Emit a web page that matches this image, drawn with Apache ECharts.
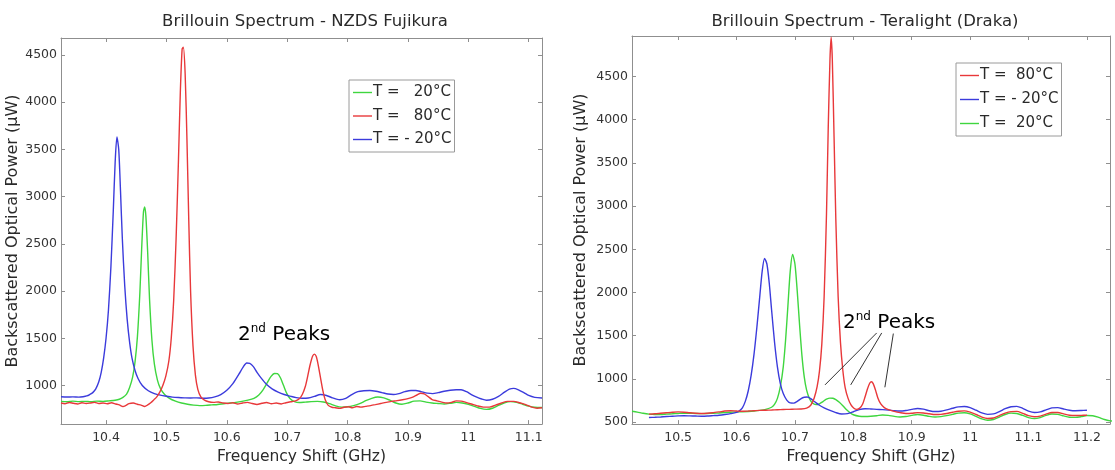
<!DOCTYPE html>
<html><head><meta charset="utf-8">
<script src="https://cdn.jsdelivr.net/npm/echarts@6/dist/echarts.min.js"></script>
<style>html,body{margin:0;padding:0;background:#fff}#c{width:1115px;height:470px}</style>
</head><body><div id="c"></div>
<script>
// ---------- DATA ----------
const leftTitle = 'Brillouin Spectrum - NZDS Fujikura';
const rightTitle = 'Brillouin Spectrum - Teralight (Draka)';
const xName = 'Frequency Shift (GHz)';
const yName = 'Backscattered Optical Power (\u03bcW)';
const leftXTicks = [10.4, 10.5, 10.6, 10.7, 10.8, 10.9, 11, 11.1];
const leftYTicks = [1000, 1500, 2000, 2500, 3000, 3500, 4000, 4500];
const rightXTicks = [10.5, 10.6, 10.7, 10.8, 10.9, 11, 11.1, 11.2];
const rightYTicks = [500, 1000, 1500, 2000, 2500, 3000, 3500, 4000, 4500];
const leftNames = ['T =   20\u00b0C', 'T =   80\u00b0C', 'T = - 20\u00b0C'];
const rightNames = ['T =  80\u00b0C', 'T = - 20\u00b0C', 'T =  20\u00b0C'];
const peaksLabel = '2nd Peaks';

// Left chart (NZDS Fujikura): [GHz, uW]
const leftGreen = [[10.3254,832],[10.335,828],[10.345,835],[10.355,830],[10.365,833],[10.375,829],[10.385,835],[10.395,832],[10.405,838],[10.415,845],[10.422,855],[10.428,875],[10.434,910],[10.439,980],[10.444,1090],[10.448,1250],[10.452,1520],[10.456,1980],[10.459,2450],[10.462,2840],[10.464,2890],[10.466,2790],[10.469,2400],[10.472,1920],[10.476,1480],[10.48,1230],[10.485,1060],[10.49,970],[10.497,905],[10.505,865],[10.515,835],[10.525,815],[10.535,802],[10.545,793],[10.555,788],[10.565,790],[10.575,795],[10.585,800],[10.595,808],[10.605,815],[10.615,822],[10.625,832],[10.635,845],[10.645,865],[10.653,900],[10.66,955],[10.667,1030],[10.673,1095],[10.679,1128],[10.684,1125],[10.689,1080],[10.694,1000],[10.699,920],[10.705,860],[10.712,830],[10.72,820],[10.73,825],[10.74,830],[10.75,832],[10.76,826],[10.77,808],[10.78,785],[10.79,772],[10.80,775],[10.81,788],[10.82,808],[10.83,840],[10.84,865],[10.85,878],[10.86,870],[10.87,845],[10.88,815],[10.89,802],[10.90,815],[10.91,835],[10.92,838],[10.93,825],[10.94,815],[10.95,810],[10.96,805],[10.97,812],[10.98,822],[10.99,815],[11.00,800],[11.01,780],[11.02,758],[11.03,748],[11.04,760],[11.05,790],[11.06,818],[11.07,830],[11.08,822],[11.09,802],[11.10,782],[11.11,770],[11.122,768]];
const leftRed = [[10.3254,815],[10.332,808],[10.339,820],[10.346,812],[10.353,805],[10.36,818],[10.367,810],[10.374,815],[10.381,822],[10.388,810],[10.395,816],[10.402,808],[10.409,818],[10.416,805],[10.422,795],[10.428,778],[10.433,790],[10.438,808],[10.445,815],[10.452,802],[10.458,792],[10.464,778],[10.469,795],[10.474,818],[10.479,848],[10.484,880],[10.489,930],[10.494,1000],[10.499,1100],[10.504,1260],[10.508,1500],[10.512,1900],[10.516,2550],[10.52,3400],[10.523,4100],[10.526,4560],[10.528,4580],[10.531,4300],[10.534,3600],[10.537,2750],[10.54,2000],[10.544,1420],[10.548,1110],[10.552,960],[10.557,880],[10.563,845],[10.57,828],[10.578,822],[10.586,826],[10.594,815],[10.602,810],[10.61,818],[10.618,805],[10.626,815],[10.634,822],[10.642,810],[10.65,800],[10.658,812],[10.666,820],[10.674,808],[10.682,815],[10.69,805],[10.698,818],[10.706,828],[10.714,838],[10.72,860],[10.725,905],[10.73,990],[10.734,1100],[10.738,1220],[10.742,1310],[10.745,1332],[10.748,1310],[10.751,1230],[10.755,1090],[10.759,950],[10.763,850],[10.768,790],[10.774,770],[10.78,765],[10.787,758],[10.794,770],[10.801,776],[10.808,765],[10.815,778],[10.822,772],[10.83,780],[10.838,788],[10.846,798],[10.855,810],[10.864,822],[10.873,832],[10.882,840],[10.891,850],[10.90,862],[10.908,878],[10.915,900],[10.921,918],[10.927,912],[10.933,885],[10.94,852],[10.948,838],[10.956,825],[10.964,815],[10.972,822],[10.98,838],[10.988,835],[10.996,822],[11.005,805],[11.015,785],[11.025,772],[11.035,772],[11.045,792],[11.055,815],[11.065,832],[11.075,832],[11.085,818],[11.095,798],[11.105,772],[11.114,760],[11.122,765]];
const leftBlue = [[10.3254,882],[10.335,878],[10.345,880],[10.355,877],[10.362,882],[10.368,890],[10.373,905],[10.378,925],[10.383,965],[10.388,1040],[10.392,1140],[10.396,1290],[10.40,1500],[10.404,1800],[10.408,2250],[10.412,2850],[10.415,3350],[10.418,3630],[10.421,3500],[10.424,3050],[10.427,2550],[10.431,2050],[10.435,1700],[10.439,1460],[10.443,1290],[10.448,1160],[10.453,1075],[10.46,1000],[10.47,945],[10.48,915],[10.49,898],[10.50,887],[10.51,878],[10.52,873],[10.53,870],[10.54,868],[10.55,870],[10.56,866],[10.57,868],[10.58,880],[10.59,905],[10.60,950],[10.61,1020],[10.62,1120],[10.627,1195],[10.633,1238],[10.638,1235],[10.644,1200],[10.65,1140],[10.658,1070],[10.666,1010],[10.675,965],[10.685,930],[10.695,905],[10.705,888],[10.715,872],[10.725,865],[10.735,868],[10.745,885],[10.755,905],[10.765,895],[10.775,870],[10.787,850],[10.797,865],[10.807,905],[10.817,935],[10.827,945],[10.837,948],[10.847,940],[10.857,925],[10.867,910],[10.876,905],[10.885,915],[10.895,935],[10.905,948],[10.913,948],[10.922,935],[10.932,920],[10.941,915],[10.95,925],[10.96,940],[10.97,950],[10.98,955],[10.988,955],[10.997,935],[11.005,905],[11.013,880],[11.022,858],[11.03,845],[11.04,855],[11.05,885],[11.06,930],[11.068,962],[11.075,970],[11.083,955],[11.092,925],[11.10,895],[11.11,875],[11.122,868]];

// Right chart (Teralight Draka): [GHz, uW]
const rightRed = [[10.45,592],[10.46,596],[10.47,602],[10.48,608],[10.49,614],[10.50,618],[10.51,615],[10.52,608],[10.53,603],[10.54,600],[10.55,603],[10.56,610],[10.57,618],[10.58,628],[10.59,632],[10.60,628],[10.61,625],[10.62,628],[10.63,632],[10.64,636],[10.65,638],[10.66,640],[10.67,643],[10.68,646],[10.69,648],[10.70,650],[10.71,652],[10.72,662],[10.727,695],[10.733,780],[10.738,910],[10.742,1090],[10.746,1400],[10.75,1950],[10.754,2900],[10.757,3900],[10.76,4700],[10.762,4955],[10.764,4700],[10.767,3800],[10.77,2850],[10.774,1950],[10.778,1420],[10.782,1100],[10.786,900],[10.791,775],[10.796,700],[10.801,660],[10.806,648],[10.811,662],[10.816,710],[10.82,790],[10.824,880],[10.828,950],[10.831,968],[10.834,945],[10.838,870],[10.842,780],[10.847,710],[10.853,668],[10.86,645],[10.87,625],[10.88,610],[10.89,600],[10.90,602],[10.91,610],[10.92,606],[10.93,596],[10.94,588],[10.95,590],[10.96,600],[10.97,614],[10.98,626],[10.99,630],[11.00,615],[11.01,588],[11.02,558],[11.03,542],[11.04,548],[11.05,575],[11.06,605],[11.07,622],[11.08,624],[11.09,602],[11.10,575],[11.11,562],[11.12,570],[11.13,592],[11.14,612],[11.15,612],[11.16,595],[11.17,580],[11.18,576],[11.19,578],[11.20,580]];
const rightBlue = [[10.45,553],[10.46,556],[10.47,560],[10.48,565],[10.49,568],[10.50,572],[10.51,574],[10.52,572],[10.53,570],[10.54,568],[10.55,570],[10.56,575],[10.57,580],[10.58,588],[10.59,598],[10.60,612],[10.605,630],[10.61,665],[10.615,740],[10.62,860],[10.625,1040],[10.63,1290],[10.635,1610],[10.64,1970],[10.644,2250],[10.648,2395],[10.652,2330],[10.656,2110],[10.66,1800],[10.665,1430],[10.67,1140],[10.675,945],[10.68,830],[10.686,755],[10.692,722],[10.698,720],[10.704,740],[10.71,770],[10.716,788],[10.721,790],[10.727,772],[10.734,735],[10.742,695],[10.75,665],[10.76,635],[10.77,610],[10.78,594],[10.79,598],[10.80,620],[10.81,645],[10.82,655],[10.83,652],[10.84,648],[10.85,645],[10.86,640],[10.87,632],[10.88,628],[10.89,635],[10.90,648],[10.91,658],[10.92,650],[10.93,632],[10.94,622],[10.95,626],[10.96,642],[10.97,660],[10.98,676],[10.99,680],[11.00,668],[11.01,638],[11.02,606],[11.03,590],[11.04,595],[11.05,622],[11.06,655],[11.07,678],[11.08,682],[11.09,660],[11.10,628],[11.11,612],[11.12,618],[11.13,642],[11.14,665],[11.15,668],[11.16,652],[11.17,638],[11.18,632],[11.19,634],[11.20,637]];
const rightGreen = [[10.421,626],[10.43,616],[10.44,602],[10.45,592],[10.46,588],[10.47,588],[10.48,592],[10.49,596],[10.50,600],[10.51,603],[10.52,602],[10.53,600],[10.54,598],[10.55,600],[10.56,603],[10.57,606],[10.58,610],[10.59,614],[10.60,618],[10.61,620],[10.62,623],[10.63,628],[10.64,636],[10.65,648],[10.66,672],[10.665,705],[10.67,775],[10.675,910],[10.68,1140],[10.684,1450],[10.688,1850],[10.692,2250],[10.696,2440],[10.70,2330],[10.704,2010],[10.708,1620],[10.712,1270],[10.716,1020],[10.72,870],[10.725,770],[10.73,720],[10.736,702],[10.742,712],[10.748,738],[10.754,765],[10.76,778],[10.765,776],[10.77,760],[10.776,730],[10.782,690],[10.788,645],[10.795,605],[10.80,585],[10.81,568],[10.82,565],[10.83,568],[10.84,574],[10.85,583],[10.86,578],[10.87,566],[10.88,560],[10.89,565],[10.90,578],[10.91,588],[10.92,580],[10.93,566],[10.94,560],[10.95,564],[10.96,575],[10.97,590],[10.98,604],[10.99,608],[11.00,595],[11.01,566],[11.02,537],[11.03,522],[11.04,530],[11.05,558],[11.06,588],[11.07,604],[11.08,600],[11.09,577],[11.10,552],[11.11,540],[11.12,552],[11.13,578],[11.14,594],[11.15,590],[11.16,572],[11.17,557],[11.18,555],[11.19,563],[11.20,576],[11.21,574],[11.22,555],[11.23,530],[11.24,515],[11.248,510]];

// Annotation pointer lines on right chart (data coordinates)
const rightPointers = [
  [[10.840, 1532], [10.7515, 931]],
  [[10.8486, 1532], [10.7955, 931]],
  [[10.8685, 1525], [10.854, 903]]
];

// ---------- STYLE / LAYOUT ----------
const FONT = 'DejaVu Sans';
const C_GREEN = '#3fd63f', C_RED = '#e8383a', C_BLUE = '#3b3bdc';
const AX = '#8f8f8f', TXT = '#2a2a2a';
const leftRange = {xmin: 10.3254, xmax: 11.122, ymin: 592, ymax: 4678};
const rightRange = {xmin: 10.421, xmax: 11.2395, ymin: 477, ymax: 4969};
const plainNum = v => String(+v.toFixed(3));

function xAxes(grid, r, ticks) {
  return [
    {gridIndex: grid, type: 'value', min: r.xmin, max: r.xmax, position: 'bottom',
     name: xName, nameLocation: 'middle', nameGap: 14,
     nameTextStyle: {fontFamily: FONT, fontSize: 15.5, color: TXT, verticalAlign: 'top'},
     axisLine: {onZero: false, lineStyle: {color: AX, width: 1}},
     axisTick: {inside: true, length: 4, customValues: ticks, lineStyle: {color: AX}},
     axisLabel: {customValues: ticks, margin: 7, fontFamily: FONT, fontSize: 12.5, color: '#333', formatter: plainNum},
     splitLine: {show: false}},
    {gridIndex: grid, type: 'value', min: r.xmin, max: r.xmax, position: 'top',
     axisLine: {onZero: false, lineStyle: {color: AX, width: 1}},
     axisTick: {inside: true, length: 4, customValues: ticks, lineStyle: {color: AX}},
     axisLabel: {show: false, customValues: ticks},
     splitLine: {show: false}}
  ];
}
function yAxes(grid, r, ticks, gap) {
  return [
    {gridIndex: grid, type: 'value', min: r.ymin, max: r.ymax, position: 'left',
     name: yName, nameLocation: 'middle', nameGap: gap,
     nameTextStyle: {fontFamily: FONT, fontSize: 16, color: TXT},
     axisLine: {onZero: false, lineStyle: {color: AX, width: 1}},
     axisTick: {inside: true, length: 4, customValues: ticks, lineStyle: {color: AX}},
     axisLabel: {customValues: ticks, margin: 4, fontFamily: FONT, fontSize: 12.5, color: '#333', formatter: plainNum},
     splitLine: {show: false}},
    {gridIndex: grid, type: 'value', min: r.ymin, max: r.ymax, position: 'right',
     axisLine: {onZero: false, lineStyle: {color: AX, width: 1}},
     axisTick: {inside: true, length: 4, customValues: ticks, lineStyle: {color: AX}},
     axisLabel: {show: false, customValues: ticks},
     splitLine: {show: false}}
  ];
}
function line(name, data, color, xi, yi, extra) {
  return Object.assign({
    type: 'line', name: name, data: data, xAxisIndex: xi, yAxisIndex: yi,
    symbol: 'none', smooth: 0.25, lineStyle: {color: color, width: 1.4},
    itemStyle: {color: color}, animation: false, silent: true
  }, extra || {});
}
// legend line icon: thin bar centred in a 19x15 box (invisible move points fix the box)
const LINE_ICON = 'path://M0,0 L0,0 M0,6.8 L19,6.8 L19,8.2 L0,8.2 Z M19,15 L19,15';
function legendBox(left, top, names, gap) {
  return {
    left: left, top: top, orient: 'vertical', data: names,
    icon: LINE_ICON,
    padding: [5, 3, 5, 4], itemGap: gap, itemWidth: 19, itemHeight: 15,
    borderColor: '#9a9a9a', borderWidth: 1, backgroundColor: '#fff', borderRadius: 0,
    selectedMode: false,
    textStyle: {fontFamily: FONT, fontSize: 15, color: TXT, lineHeight: 15, padding: [0, 0, 0, -4]}
  };
}
const peakRich = {
  n: {fontFamily: FONT, fontSize: 20, color: TXT, lineHeight: 24, verticalAlign: 'middle'},
  s: {fontFamily: FONT, fontSize: 12, color: TXT, lineHeight: 13, verticalAlign: 'top'}
};
const peakText = '{n|' + peaksLabel.slice(0, 1) + '}{s|' + peaksLabel.slice(1, 3) + '}{n|' + peaksLabel.slice(3) + '}';

const chart = echarts.init(document.getElementById('c'), null, {renderer: 'canvas'});
chart.setOption({
  backgroundColor: '#fff',
  animation: false,
  title: [
    {text: leftTitle, left: 300, top: 8, textAlign: 'center',
     textStyle: {fontFamily: FONT, fontSize: 16.5, fontWeight: 'normal', color: TXT}},
    {text: rightTitle, left: 860, top: 8, textAlign: 'center',
     textStyle: {fontFamily: FONT, fontSize: 16.5, fontWeight: 'normal', color: TXT}}
  ],
  grid: [
    {left: 61, top: 38, width: 481, height: 391},
    {left: 632, top: 36, width: 478, height: 393}
  ],
  xAxis: xAxes(0, leftRange, leftXTicks).concat(xAxes(1, rightRange, rightXTicks)),
  yAxis: yAxes(0, leftRange, leftYTicks, 33).concat(yAxes(1, rightRange, rightYTicks, 43)),
  legend: [legendBox(349, 80, leftNames, 8.5), legendBox(956, 63, rightNames, 9)],
  series: [
    line(leftNames[0], leftGreen, C_GREEN, 0, 0),
    line(leftNames[2], leftBlue, C_BLUE, 0, 0),
    line(leftNames[1], leftRed, C_RED, 0, 0),
    line(rightNames[2], rightGreen, C_GREEN, 2, 2, {clip: false}),
    line(rightNames[1], rightBlue, C_BLUE, 2, 2),
    line(rightNames[0], rightRed, C_RED, 2, 2, {
      markLine: {silent: true, symbol: 'none', animation: false,
        label: {show: false}, emphasis: {disabled: true},
        lineStyle: {color: '#333', width: 1, type: 'solid'},
        data: rightPointers.map(p => [{coord: p[0]}, {coord: p[1]}])}
    })
  ],
  graphic: [
    {type: 'text', left: 238, top: 323, silent: true, style: {text: peakText, rich: peakRich}},
    {type: 'text', left: 843, top: 311, silent: true, style: {text: peakText, rich: peakRich}}
  ]
});
</script></body></html>
